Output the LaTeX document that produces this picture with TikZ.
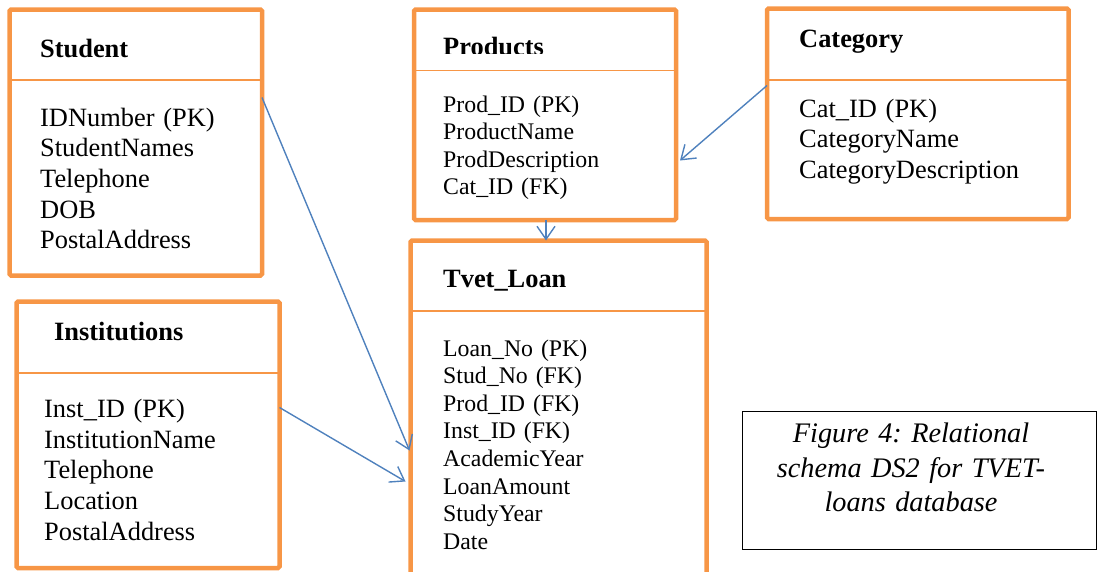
\documentclass[tikz,border=0pt]{standalone}
\usepackage{fontspec}
\setmainfont{Liberation Serif}
\frenchspacing
\usetikzlibrary{arrows.meta,calc}
\definecolor{tblorange}{HTML}{F79646}
\definecolor{linkblue}{HTML}{4F81BD}
\tikzset{
  tblbox/.style={draw=tblorange, line width=4.5pt, rounded corners=1.5pt,
    inner sep=0pt, outer sep=0pt, anchor=north west},
  divider/.style={draw=tblorange, line width=1.3pt},
  head/.style={anchor=base west, inner sep=0pt,
    font=\fontsize{26.4}{30}\selectfont\bfseries},
  attrsL/.style={anchor=base west, inner sep=0pt, text width=250pt, align=left,
    font=\fontsize{26.4}{30.7}\selectfont},
  attrsS/.style={anchor=base west, inner sep=0pt, text width=250pt, align=left,
    font=\fontsize{23.8}{27.6}\selectfont},
  link/.style={draw=linkblue, line width=1.4pt,
    -{Straight Barb[length=13pt,width=18pt]}},
}
\begin{document}
\begin{tikzpicture}[x=1pt,y=-1pt]
\clip (0,0) rectangle (1097,571);

% table frames
\node[tblbox, minimum width=252.5pt, minimum height=266pt] (student) at (9.5,9.5) {};
\node[tblbox, minimum width=262pt, minimum height=210.5pt] (prod) at (414,9.5) {};
\node[tblbox, minimum width=301.5pt, minimum height=210.5pt] (cat) at (767,8.5) {};
\node[tblbox, minimum width=263pt, minimum height=266.5pt] (inst) at (16.5,301.5) {};
\node[tblbox, minimum width=296pt, minimum height=360pt] (loan) at (410.5,240.5) {};

% header separators
\draw[divider] (student.west |- 0,80) -- (student.east |- 0,80);
\draw[divider] (prod.west |- 0,70.5) -- (prod.east |- 0,70.5);
\draw[divider] (cat.west |- 0,80) -- (cat.east |- 0,80);
\draw[divider] (inst.west |- 0,373) -- (inst.east |- 0,373);
\draw[divider] (loan.west |- 0,311) -- (loan.east |- 0,311);

% table names
\node[head] (studenthead) at (40,57) {Student};
\begin{scope}
  \clip (prod.north west) rectangle ($(prod.north east)+(0,44)$);
  \node[head] (prodhead) at (443,55) {Products};
\end{scope}
\node[head] (cathead) at (799,47) {Category};
\node[head] (insthead) at (54,340) {Institutions};
\node[head] (loanhead) at (443,287) {Tvet\_Loan};

% attributes
\node[attrsL] (studentattr) at (40,126)
  {IDNumber (PK)\\StudentNames\\Telephone\\DOB\\PostalAddress};
\node[attrsS] (prodattr) at (443,112)
  {Prod\_ID (PK)\\ProductName\\ProdDescription\\Cat\_ID (FK)};
\node[attrsL] (catattr) at (799,117)
  {Cat\_ID (PK)\\CategoryName\\CategoryDescription};
\node[attrsL] (instattr) at (44,417.5)
  {Inst\_ID (PK)\\InstitutionName\\Telephone\\Location\\PostalAddress};
\node[attrsS] (loanattr) at (443,356)
  {Loan\_No (PK)\\Stud\_No (FK)\\Prod\_ID (FK)\\Inst\_ID (FK)\\AcademicYear\\LoanAmount\\StudyYear\\Date};

% caption
\node[draw=black, line width=1pt, anchor=north west, inner sep=0pt,
      minimum width=354pt, minimum height=138pt] (capbox) at (742,411) {};
\node[anchor=base, inner sep=0pt, text width=320pt, align=center,
      font=\fontsize{28.3}{34.5}\selectfont\itshape] (captext) at (911,442.5)
  {Figure 4: Relational\\schema DS2 for TVET-\\loans database};

% relationships
\draw[link] ($(student.north east)+(0,88)$) -- ($(loan.north west)+(-1,210)$);
\draw[link] ($(inst.north east)+(0,106)$) -- ($(loan.north west)+(-5,241)$);
\draw[link] ($(cat.north west)+(0,77)$) -- ($(prod.north east)+(4,151)$);
\draw[link] ($(prod.south west)+(132,0)$) -- ($(loan.north west)+(135.5,0)$);
\end{tikzpicture}
\end{document}
